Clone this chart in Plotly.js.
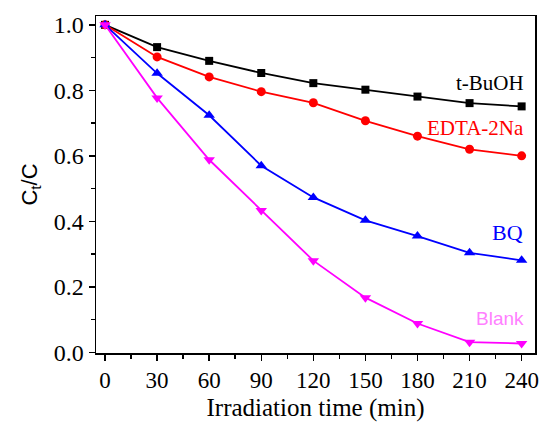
<!DOCTYPE html>
<html>
<head>
<meta charset="utf-8">
<script src="https://cdn.plot.ly/plotly-3.0.1.min.js"></script>
<style>html,body{margin:0;padding:0;background:#fff;}#chart{width:542px;height:423px;}</style>
</head>
<body>
<div id="chart"></div>
<script>
const time = [0, 30, 60, 90, 120, 150, 180, 210, 240];
const tBuOH = [1.0, 0.932, 0.89, 0.853, 0.822, 0.802, 0.781, 0.761, 0.751];
const edta = [1.0, 0.902, 0.841, 0.796, 0.762, 0.707, 0.66, 0.62, 0.60];
const bq = [1.0, 0.852, 0.724, 0.57, 0.473, 0.403, 0.355, 0.304, 0.281];
const blank = [1.0, 0.777, 0.588, 0.433, 0.28, 0.167, 0.088, 0.031, 0.027];
const seriesNames = ["t-BuOH", "EDTA-2Na", "BQ", "Blank"];
const xTicks = [0, 30, 60, 90, 120, 150, 180, 210, 240];

const serif = "Liberation Serif";
const sans = "Liberation Sans";

const traces = [
  {x: time, y: tBuOH, name: seriesNames[0], mode: "lines+markers",
   line: {color: "#000000", width: 1.8}, marker: {symbol: "square", size: 8, color: "#000000"}},
  {x: time, y: edta, name: seriesNames[1], mode: "lines+markers",
   line: {color: "#ff0000", width: 1.8}, marker: {symbol: "circle", size: 9, color: "#ff0000"}},
  {x: time, y: bq, name: seriesNames[2], mode: "lines+markers",
   line: {color: "#0000ff", width: 1.8}, marker: {symbol: "triangle-up", size: 10, color: "#0000ff"}},
  {x: time, y: blank, name: seriesNames[3], mode: "lines+markers",
   line: {color: "#ff00ff", width: 1.8}, marker: {symbol: "triangle-down", size: 10, color: "#ff00ff"}}
];

const layout = {
  width: 542, height: 423,
  margin: {l: 96, r: 7, t: 16, b: 70},
  paper_bgcolor: "#ffffff", plot_bgcolor: "#ffffff",
  showlegend: false,
  xaxis: {
    range: [-5.2, 247.7], tickvals: xTicks, ticktext: xTicks.map(String),
    ticks: "outside", ticklen: 6, tickwidth: 1.5, tickcolor: "#000",
    minor: {dtick: 15, tick0: 0, ticks: "outside", ticklen: 4, tickwidth: 1.5, tickcolor: "#000"},
    showline: true, linewidth: 1.5, linecolor: "#000", mirror: true,
    showgrid: false, zeroline: false,
    tickfont: {family: serif, size: 23, color: "#000"},
    title: {text: "Irradiation time (min)", font: {family: serif, size: 25, color: "#000"}, standoff: 6}
  },
  yaxis: {
    range: [-0.002, 1.027], dtick: 0.2, tick0: 0, tickformat: ".1f",
    ticks: "outside", ticklen: 6, tickwidth: 1.5, tickcolor: "#000",
    minor: {dtick: 0.1, tick0: 0, ticks: "outside", ticklen: 4, tickwidth: 1.5, tickcolor: "#000"},
    showline: true, linewidth: 1.5, linecolor: "#000", mirror: true,
    showgrid: false, zeroline: false,
    tickfont: {family: serif, size: 24, color: "#000"},
    title: {text: "C<sub>t</sub>/C", font: {family: sans, size: 22, color: "#000"}, standoff: 10}
  },
  annotations: [
    {x: 242.5, y: 0.823, xref: "x", yref: "y", text: seriesNames[0], showarrow: false, xanchor: "right",
     font: {family: serif, size: 21, color: "#000000"}},
    {x: 242.5, y: 0.686, xref: "x", yref: "y", text: seriesNames[1], showarrow: false, xanchor: "right",
     font: {family: serif, size: 21, color: "#ff0000"}},
    {x: 242, y: 0.365, xref: "x", yref: "y", text: seriesNames[2], showarrow: false, xanchor: "right",
     font: {family: serif, size: 22, color: "#0000ff"}},
    {x: 242.5, y: 0.103, xref: "x", yref: "y", text: seriesNames[3], showarrow: false, xanchor: "right",
     font: {family: sans, size: 19, color: "#ff80ff"}}
  ]
};

Plotly.newPlot("chart", traces, layout, {displayModeBar: false, staticPlot: true});
</script>
</body>
</html>
